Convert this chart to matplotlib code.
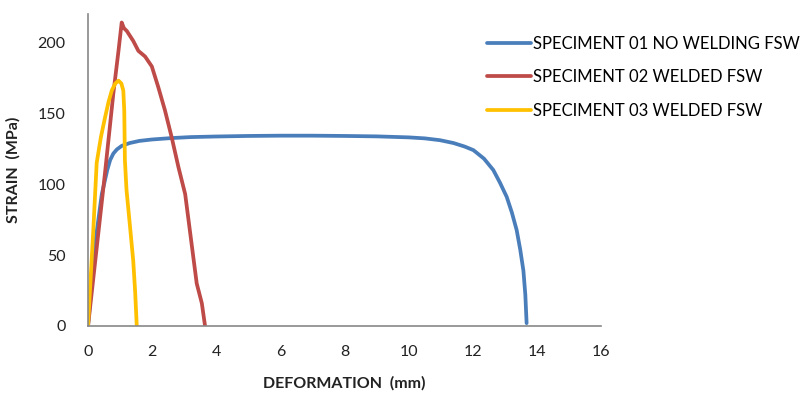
import matplotlib
matplotlib.use('Agg')
import matplotlib.pyplot as plt

plt.rcParams['font.family'] = ['Lato', 'DejaVu Sans']

# data (deformation mm, strain MPa)
s1_x = [0, 0.22, 0.43, 0.6, 0.69, 0.79, 0.9, 1.05, 1.3, 1.6, 1.99, 2.6, 3.2, 3.96, 5.0, 6.0, 7.0, 8.0, 9.0, 10.0, 10.5, 10.98, 11.4, 11.75, 12.02, 12.35, 12.64, 12.85, 13.06, 13.22, 13.37, 13.48, 13.58, 13.64, 13.68]
s1_y = [0, 58, 93, 110, 117, 121.6, 124.5, 127, 129, 130.5, 131.5, 132.5, 133.2, 133.6, 134, 134.2, 134.2, 134, 133.7, 133, 132.3, 131, 129, 126.5, 124, 118, 110, 101, 91, 80, 67.6, 54, 39, 22, 2]

s2_x = [0, 0.53, 0.79, 0.95, 1.05, 1.12, 1.21, 1.41, 1.57, 1.78, 1.99, 2.19, 2.4, 2.61, 2.82, 3.03, 3.23, 3.39, 3.55, 3.65]
s2_y = [0, 108, 164, 194, 214, 210, 208, 201, 194, 190, 183, 168.5, 152, 133, 112, 93, 58, 30, 16, 0]

s3_x = [0, 0.17, 0.27, 0.4, 0.53, 0.64, 0.74, 0.85, 0.95, 1.04, 1.1, 1.13, 1.15, 1.2, 1.31, 1.41, 1.47, 1.52]
s3_y = [0, 70, 115, 133, 147, 158, 166, 171, 173, 171, 166, 152, 117, 96, 70, 46, 24, 0]

labels = ['SPECIMENT 01 NO WELDING FSW', 'SPECIMENT 02 WELDED FSW', 'SPECIMENT 03 WELDED FSW']
colors = ['#4A7EBB', '#BE4B48', '#FFC000']
xticks = [0, 2, 4, 6, 8, 10, 12, 14, 16]
yticks = [0, 50, 100, 150, 200]

fig = plt.figure(figsize=(8.01, 3.95), dpi=100)
ax = fig.add_axes([0.1099, 0.1747, 0.6404, 0.7899])

lines = []
for xs, ys, c, lab in zip([s1_x, s2_x, s3_x], [s1_y, s2_y, s3_y], colors, labels):
    ln, = ax.plot(xs, ys, color=c, lw=2.7, label=lab, solid_joinstyle='round', solid_capstyle='round')
    lines.append(ln)

ax.set_xlim(0, 16)
ax.set_ylim(0, 220)
ax.set_xticks(xticks)
ax.set_yticks(yticks)
ax.tick_params(length=0, labelsize=11.5, colors='#222222')
ax.tick_params(axis='x', pad=14)
ax.tick_params(axis='y', pad=16)
for sp in ['top', 'right']:
    ax.spines[sp].set_visible(False)
for sp in ['left', 'bottom']:
    ax.spines[sp].set_color('#888888')
    ax.spines[sp].set_linewidth(1.2)

ax.set_xlabel('DEFORMATION  (mm)', fontsize=11.5, fontweight='bold', color='#222222', labelpad=12)
ax.set_ylabel('STRAIN  (MPa)', fontsize=11.5, fontweight='bold', color='#222222', labelpad=12)

fig.legend(handles=lines, loc='upper left', bbox_to_anchor=(0.6, 0.927), frameon=False,
           fontsize=12, handlelength=2.6, handletextpad=0.15, labelspacing=1.05,
           borderaxespad=0)

fig.savefig('out.png', dpi=100)
